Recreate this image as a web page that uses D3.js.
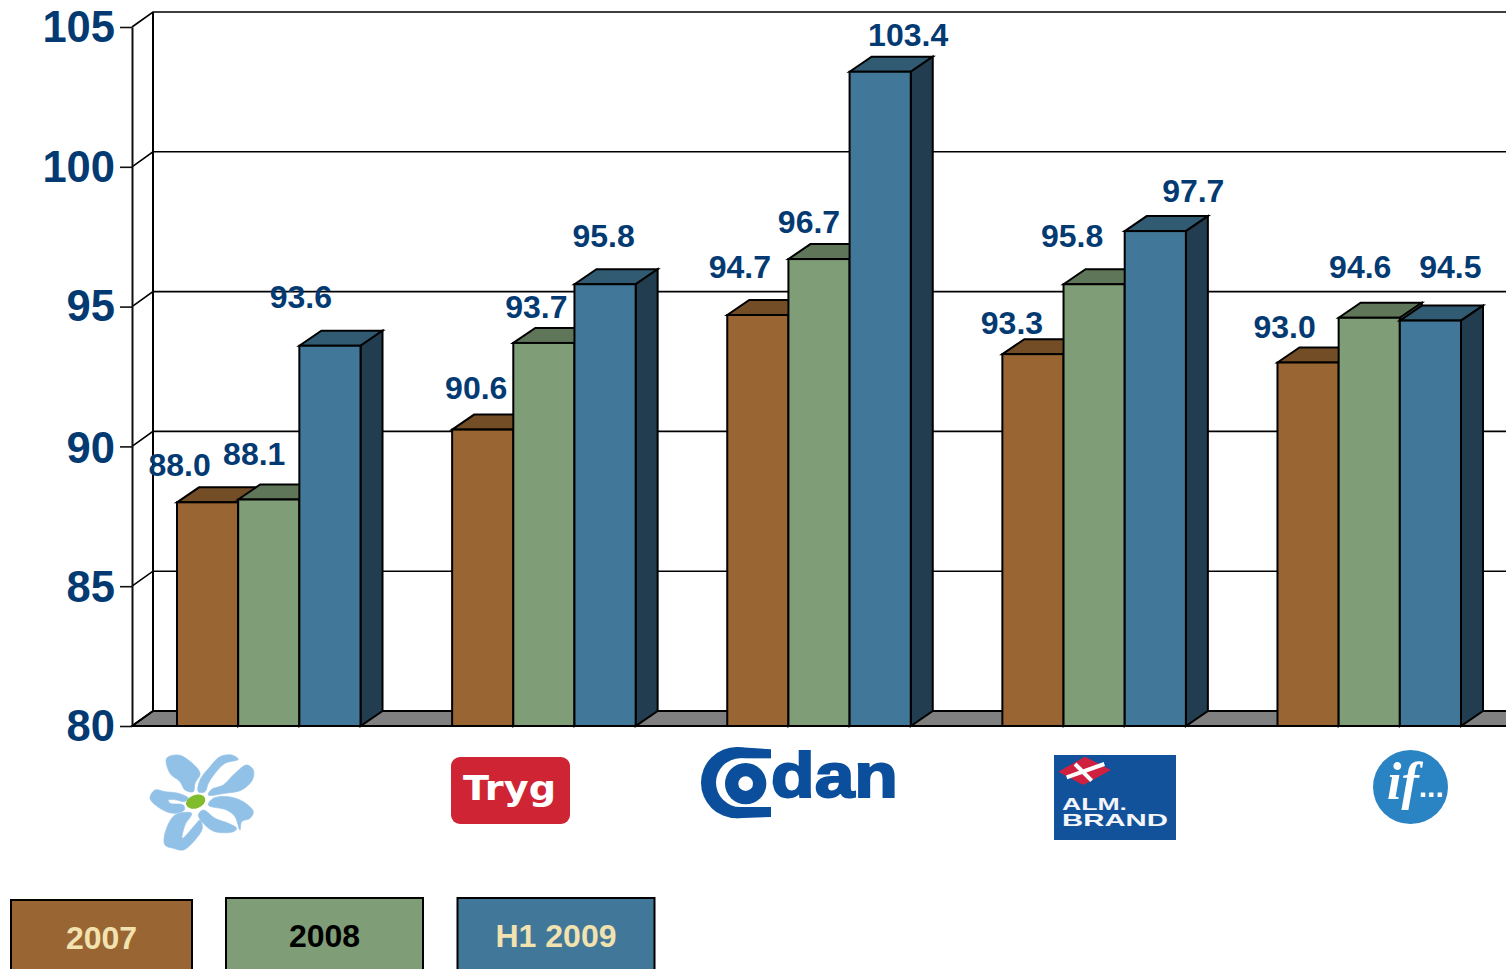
<!DOCTYPE html>
<html>
<head>
<meta charset="utf-8">
<script src="https://cdn.jsdelivr.net/npm/d3@7"></script>
<style>
html,body{margin:0;padding:0;background:#fff;overflow:hidden}
svg{display:block}
text{font-family:"Liberation Sans",Arial,sans-serif;font-weight:bold}
</style>
</head>
<body>
<svg id="chart" width="1506" height="969"></svg>
<script>
const companies = ["Topdanmark","Tryg","Codan","Alm. Brand","If"];
const seriesNames = ["2007","2008","H1 2009"];
const values2007 = [88.0,90.6,94.7,93.3,93.0];
const values2008 = [88.1,93.7,96.7,95.8,94.6];
const valuesH12009 = [93.6,95.8,103.4,97.7,94.5];
const yTicks = [80,85,90,95,100,105];

const seriesValues = [values2007,values2008,valuesH12009];
const frontColors = ["#996633","#7f9d76","#417899"];
const topColors   = ["#734d26","#5f7658","#315a73"];
const sideColors  = ["#6a4623","#57705a","#213d4f"];
const navy = "#043a72";

// Hand-placed label nudges (dx, dy from bar's top centre), as in the source chart
const labelNudges = [
  [[-28,-26],[-14.5,-35],[-29,-38]],
  [[-6.5,-31],[-7.5,-25],[-1.5,-37]],
  [[-18,-37],[-10,-26],[28,-26]],
  [[-21,-20],[-22,-37],[38,-29]],
  [[-23.5,-24.5],[-9,-40],[20,-43]]
];

const svg = d3.select("#chart");
const W = 1506;
const x0 = 132, yBase = 726, yTop = 27;
const wallDX = 21, wallDY = 15, barDX = 22, barDY = 15;

const y = d3.scaleLinear().domain([80,105]).range([yBase,yTop]);
const xGroup = d3.scaleBand().domain(companies).range([x0,1506]).paddingInner(0.333).paddingOuter(0.1636);
const xSeries = d3.scaleBand().domain(seriesNames).range([0,xGroup.bandwidth()]);

// floor
svg.append("polygon")
  .attr("points",[[x0,yBase],[x0+wallDX,yBase-wallDY],[W+5,yBase-wallDY],[W+5,yBase]].join(" "))
  .attr("fill","#808080").attr("stroke","#000").attr("stroke-width",2);

// grid on the back wall and the left wall
const wall = svg.append("g").attr("fill","none").attr("stroke","#000").attr("stroke-width",1.6);
wall.selectAll("path.grid").data(yTicks).join("path").attr("class","grid")
  .attr("d",d=>`M${x0},${y(d)}L${x0+wallDX},${y(d)-wallDY}L${W+5},${y(d)-wallDY}`);
wall.append("line").attr("x1",x0+wallDX).attr("x2",x0+wallDX)
  .attr("y1",y(105)-wallDY).attr("y2",yBase-wallDY).attr("stroke-width",2);

// y axis
const axis = svg.append("g").attr("transform",`translate(${x0},0)`)
  .call(d3.axisLeft(y).tickValues(yTicks).tickSize(12).tickPadding(5).tickSizeOuter(0).tickFormat(d3.format("d")));
axis.select(".domain").attr("stroke","#111").attr("stroke-width",2);
axis.selectAll(".tick line").attr("stroke","#111").attr("stroke-width",1.6);
axis.selectAll(".tick text").attr("fill",navy).style("font-size","43.5px")
  .style("font-family",'"Liberation Sans",Arial,sans-serif').style("font-weight","bold")
  .attr("dy",d=>d===90?"0.38em":d===85?"0.35em":"0.33em");

// bars
const rows = companies.map((c,i)=>({c,i}));
const groups = svg.selectAll("g.company").data(rows).join("g").attr("class","company")
  .attr("transform",d=>`translate(${xGroup(d.c)},0)`);
groups.each(function(g){
  const gg = d3.select(this);
  seriesNames.forEach((s,k)=>{
    const v = seriesValues[k][g.i];
    const xl = xSeries(s), w = xSeries.bandwidth(), t = y(v);
    const b = gg.append("g").attr("stroke","#000").attr("stroke-width",2).attr("stroke-linejoin","miter");
    b.append("polygon").attr("fill",topColors[k])
      .attr("points",[[xl,t],[xl+barDX,t-barDY],[xl+w+barDX,t-barDY],[xl+w,t]].join(" "));
    b.append("polygon").attr("fill",sideColors[k])
      .attr("points",[[xl+w,t],[xl+w+barDX,t-barDY],[xl+w+barDX,yBase-barDY],[xl+w,yBase]].join(" "));
    b.append("rect").attr("x",xl).attr("y",t).attr("width",w).attr("height",yBase-t).attr("fill",frontColors[k]);
  });
});
// base line over floor
svg.append("line").attr("x1",x0).attr("x2",W+5).attr("y1",yBase).attr("y2",yBase).attr("stroke","#000").attr("stroke-width",2);

// value labels
groups.each(function(g){
  const gg = d3.select(this);
  seriesNames.forEach((s,k)=>{
    const v = seriesValues[k][g.i], n = labelNudges[g.i][k];
    gg.append("text").attr("x",xSeries(s)+xSeries.bandwidth()/2+n[0]).attr("y",y(v)+n[1])
      .attr("text-anchor","middle").attr("fill",navy).style("font-size","32px").text(d3.format(".1f")(v));
  });
});

// legend
const legendBoxes = [[11,900,181],[226,898,197],[457.5,898,197]];
const legendInk = ["#f2e2b0","#000","#f2e2b0"];
const leg = svg.selectAll("g.leg").data(seriesNames).join("g").attr("class","leg");
leg.append("rect").attr("x",(d,i)=>legendBoxes[i][0]).attr("y",(d,i)=>legendBoxes[i][1])
  .attr("width",(d,i)=>legendBoxes[i][2]).attr("height",100)
  .attr("fill",(d,i)=>frontColors[i]).attr("stroke","#000").attr("stroke-width",2);
leg.append("text").attr("x",(d,i)=>legendBoxes[i][0]+legendBoxes[i][2]/2).attr("y",(d,i)=>legendBoxes[i][1]+49)
  .attr("text-anchor","middle").attr("fill",(d,i)=>legendInk[i]).style("font-size","32px").text(d=>d);

// ---- logos ----
// flower
const flower = svg.append("g").attr("transform","translate(145,750) scale(0.3333)").attr("fill","#92c1e8");
const blob = d3.line().curve(d3.curveCatmullRomClosed.alpha(0.5));
[
 [[65,25],[100,15],[130,30],[165,70],[150,100],[145,125],[120,120],[105,95],[75,70]],
 [[160,125],[165,90],[195,50],[225,20],[260,15],[280,28],[240,40],[210,70],[190,100],[180,125]],
 [[190,135],[200,118],[235,105],[265,75],[305,45],[325,60],[322,90],[290,120],[240,130]],
 [[190,165],[205,145],[250,140],[295,155],[325,185],[315,205],[290,215],[285,240],[270,200],[245,180]],
 [[160,195],[175,180],[210,205],[250,220],[275,235],[265,245],[210,245],[180,225]],
 [[90,195],[140,190],[120,225],[112,265],[150,225],[165,210],[172,235],[150,270],[115,300],[85,295],[60,285],[60,250]],
 [[15,145],[30,120],[60,125],[100,130],[130,145],[118,155],[95,150],[70,150],[75,160],[115,165],[118,180],[85,190],[45,175]]
].forEach(p=>flower.append("path").attr("d",blob(p)).attr("stroke","#92c1e8").attr("stroke-width",2));
flower.append("ellipse").attr("cx",152).attr("cy",155).attr("rx",30).attr("ry",20)
  .attr("transform","rotate(-20 152 155)").attr("fill","#80bc2c");

// Tryg
svg.append("rect").attr("x",451).attr("y",757).attr("width",119).attr("height",67).attr("rx",9).attr("fill","#cf2434");
svg.append("text").attr("x",463).attr("y",800).attr("fill","#fff")
  .attr("textLength",93).attr("lengthAdjust","spacingAndGlyphs")
  .style("font-family",'"DejaVu Sans",sans-serif').style("font-size","34px").text("Tryg");

// Codan
const codanBlue = "#0b4f9c";
const cod = svg.append("g").attr("transform","translate(695,742) scale(0.3333)");
cod.append("circle").attr("cx",125).attr("cy",122).attr("r",107).attr("fill",codanBlue);
cod.append("polygon").attr("points","125,15 228,22 228,225 125,229").attr("fill",codanBlue);
cod.append("circle").attr("cx",136).attr("cy",122).attr("r",73).attr("fill","#fff");
cod.append("rect").attr("x",136).attr("y",49).attr("width",95).attr("height",146).attr("fill","#fff");
cod.append("circle").attr("cx",152).attr("cy",125).attr("r",62).attr("fill",codanBlue);
cod.append("circle").attr("cx",152).attr("cy",125).attr("r",22).attr("fill","#fff");
svg.append("text").attr("x",771).attr("y",797).attr("fill",codanBlue).attr("stroke",codanBlue).attr("stroke-width",2)
  .attr("textLength",127).attr("lengthAdjust","spacingAndGlyphs").style("font-size","63px").text("dan");

// Alm. Brand
svg.append("rect").attr("x",1054).attr("y",755).attr("width",122).attr("height",85).attr("fill","#12529a");
const flag = svg.append("g").attr("transform","translate(1050,750) scale(0.3333)");
flag.append("polygon").attr("points","25,65 105,20 183,60 100,105").attr("fill","#cf2040");
flag.append("path").attr("d","M50 82L163 42M75 42L125 92").attr("stroke","#fff").attr("stroke-width",12).attr("fill","none");
svg.append("text").attr("x",1062).attr("y",810).attr("fill","#f4f6fa")
  .attr("textLength",65).attr("lengthAdjust","spacingAndGlyphs").style("font-size","16px").text("ALM.");
svg.append("text").attr("x",1062).attr("y",826).attr("fill","#f4f6fa")
  .attr("textLength",106).attr("lengthAdjust","spacingAndGlyphs").style("font-size","17px").text("BRAND");

// If
svg.append("ellipse").attr("cx",1410.5).attr("cy",787).attr("rx",37.5).attr("ry",37).attr("fill","#2a83c2");
const ifText = svg.append("text").attr("x",1387).attr("y",799).attr("fill","#fff");
ifText.append("tspan").style("font-family",'"Liberation Serif",serif').style("font-style","italic").style("font-weight","bold")
  .style("font-size","52px").text("if");
ifText.append("tspan").attr("dy",-2).style("font-size","30px").text("...");
</script>
</body>
</html>
